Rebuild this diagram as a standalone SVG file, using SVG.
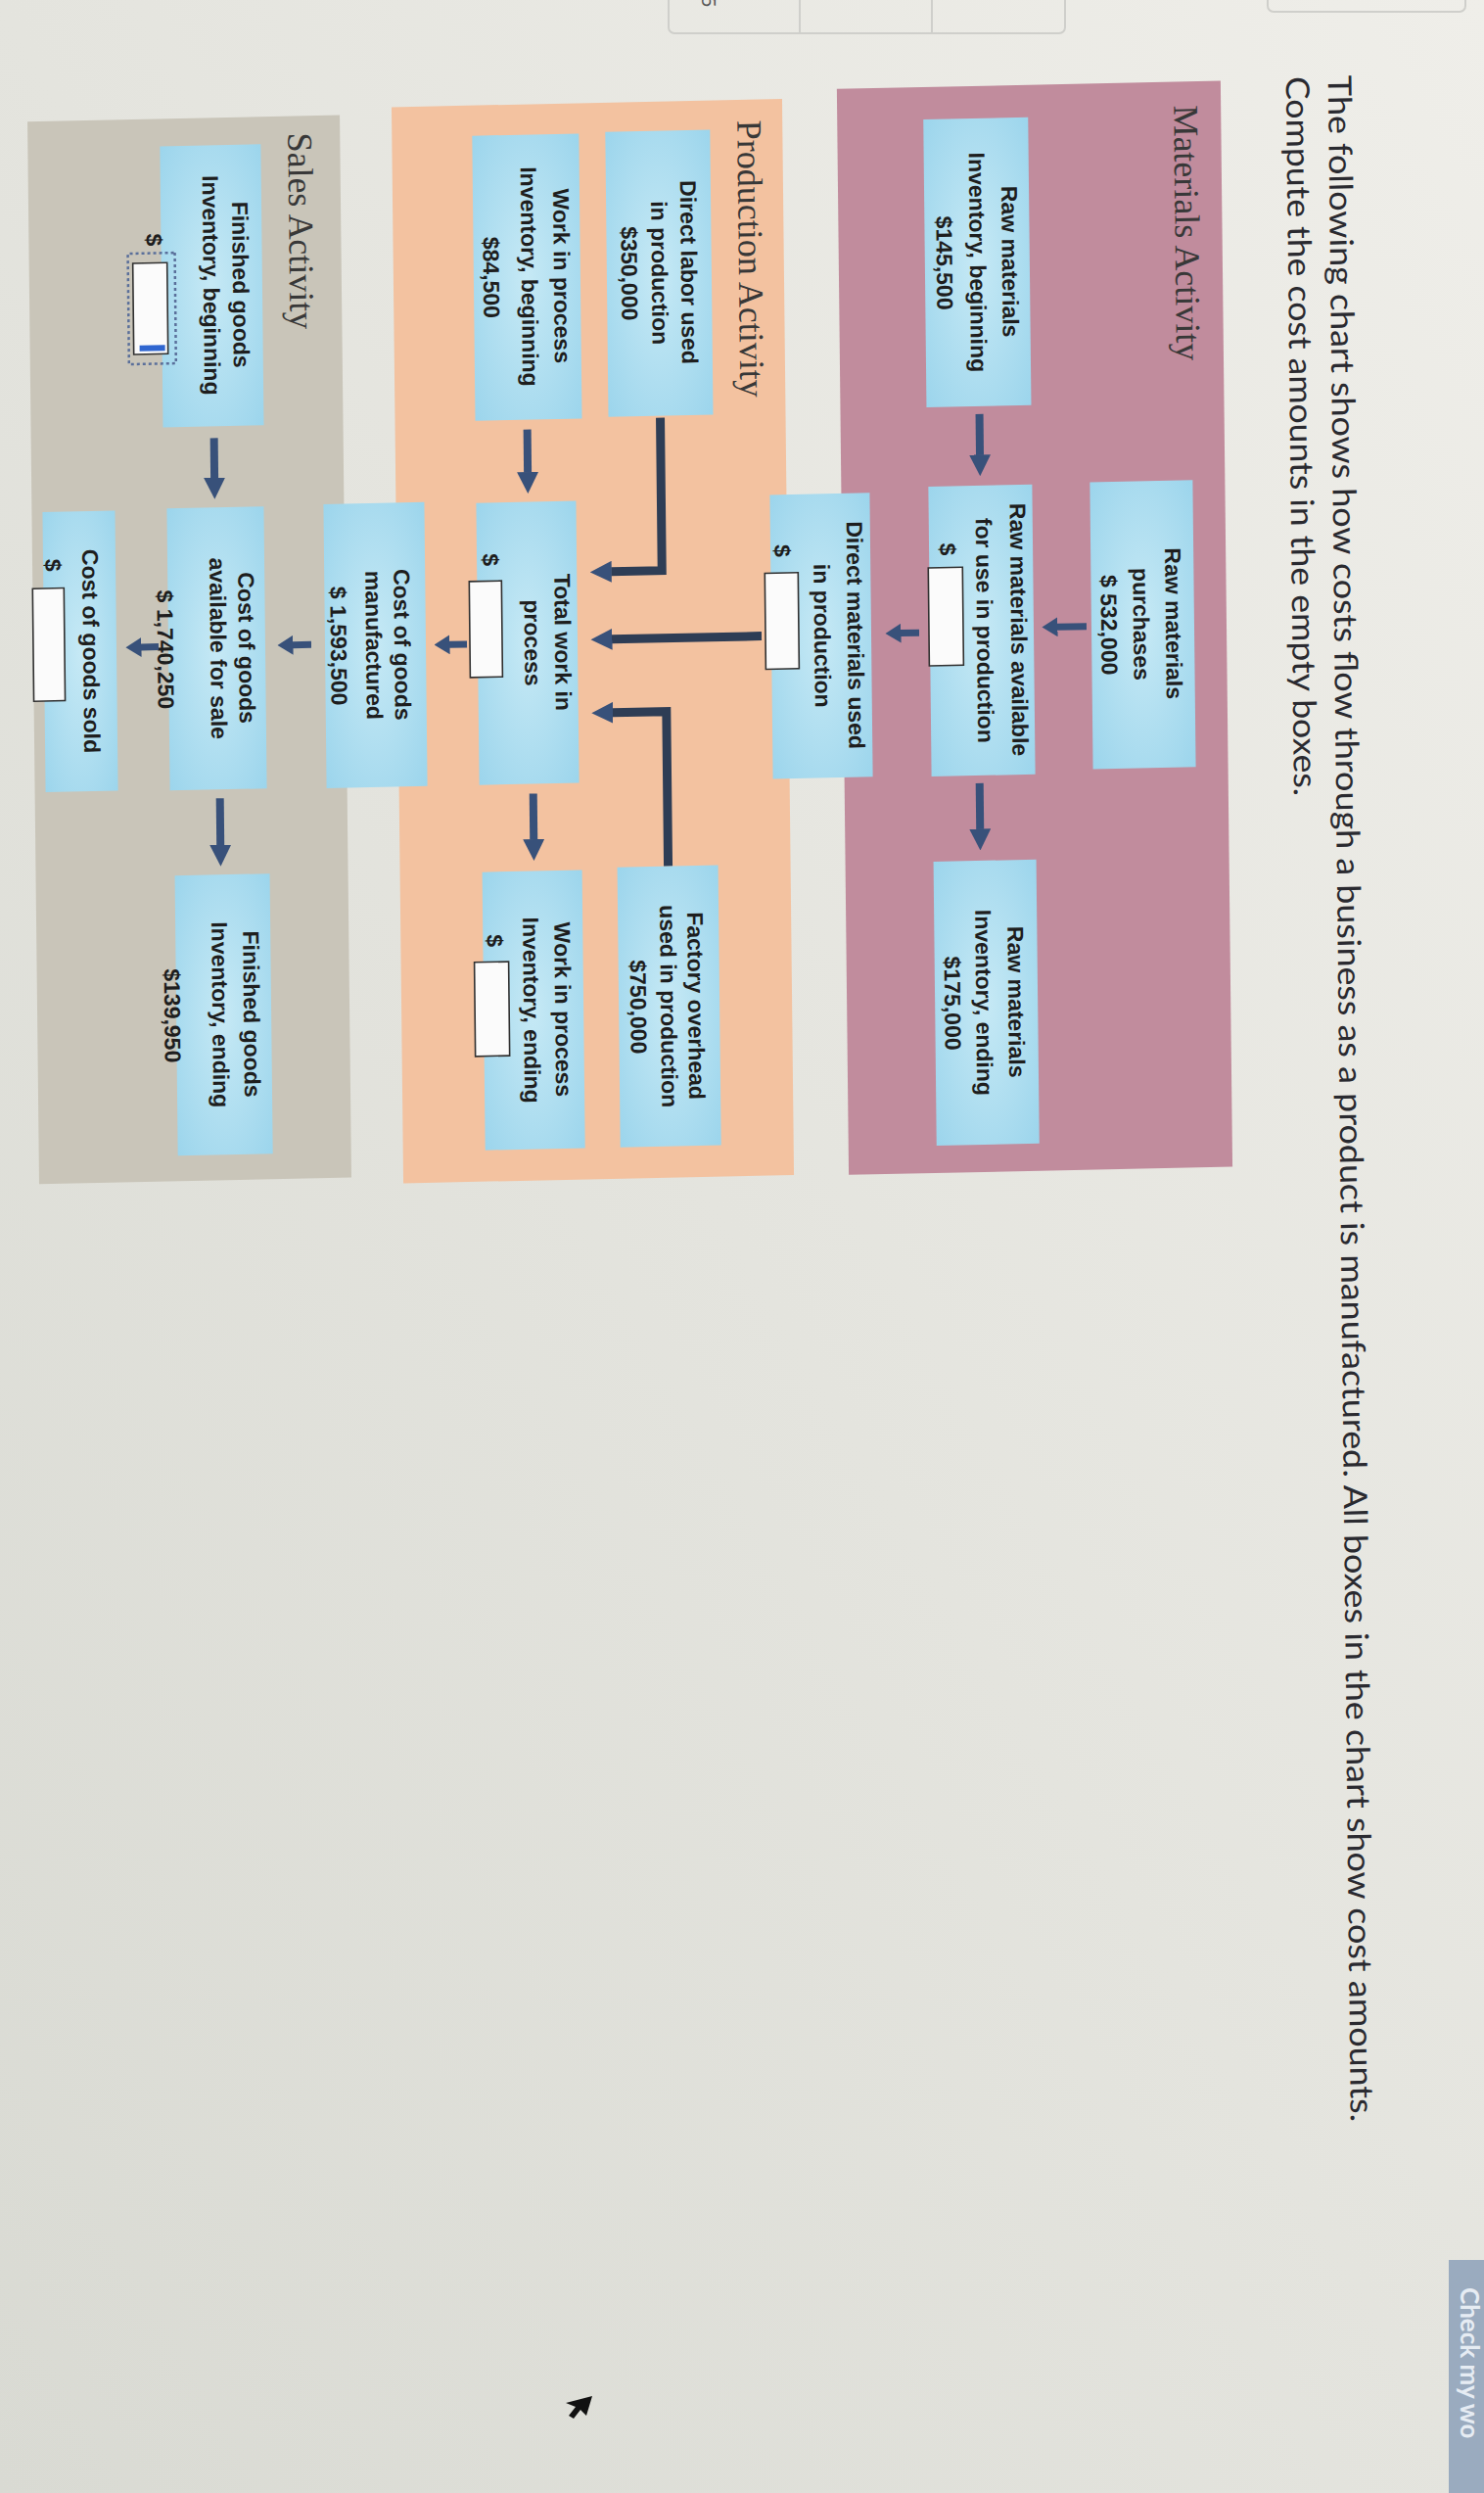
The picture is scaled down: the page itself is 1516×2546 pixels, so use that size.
<svg xmlns="http://www.w3.org/2000/svg" width="1516" height="2546" viewBox="0 0 1516 2546">
<defs>
<linearGradient id="bg" x1="1" y1="0" x2="0" y2="1">
<stop offset="0" stop-color="#efeee9"/><stop offset="1" stop-color="#d9dad3"/>
</linearGradient>
<radialGradient id="boxg" cx="0.5" cy="0.5" r="0.7">
<stop offset="0" stop-color="#c6e9f5"/><stop offset="1" stop-color="#9cd5ec"/>
</radialGradient>
<marker id="ah" viewBox="0 -11 22 22" markerWidth="22" markerHeight="22" refX="0.5" refY="0" orient="auto" markerUnits="userSpaceOnUse"><path d="M0,-11 L22,0 L0,11 Z" fill="#38517a"/></marker>
<marker id="as" viewBox="0 -10 16 20" markerWidth="16" markerHeight="20" refX="0.5" refY="0" orient="auto" markerUnits="userSpaceOnUse"><path d="M0,-10 L16,0 L0,10 Z" fill="#38517a"/></marker>
<style>
.box{fill:url(#boxg)}
.t{font-family:"Liberation Sans",Arial,sans-serif;font-weight:bold;font-size:23px;fill:#1e1e1e;text-anchor:middle}
.d{font-family:"Liberation Sans",Arial,sans-serif;font-weight:bold;font-size:23px;fill:#1e1e1e}
.lbl{font-family:"Liberation Serif","Times New Roman",serif;font-size:36px;fill:#383838}
.title{font-family:Lato,"Open Sans",sans-serif;font-size:33px;fill:#2a2a30}
.inp{fill:#fbfbfb;stroke:#303030;stroke-width:1.6}
.arr{fill:none;stroke:#38517a;stroke-width:8}
.arrs{fill:none;stroke:#38517a;stroke-width:7}
.brk{fill:none;stroke:#2e3d55;stroke-width:9}
</style>
</defs>
<rect x="0" y="0" width="1516" height="2546" fill="url(#bg)"/>
<g id="page-ui" fill="none" stroke="#cfcfcb" stroke-width="2">
<rect x="683" y="-12" width="405" height="46" rx="6"/>
<line x1="817" y1="-2" x2="817" y2="34"/>
<line x1="952" y1="-2" x2="952" y2="34"/>
<rect x="1295" y="-12" width="202" height="24" rx="6"/>
</g>
<text transform="translate(717,-4) rotate(90)" font-family="Lato,sans-serif" font-size="20" fill="#555">5</text>
<g id="check-button">
<rect x="1480" y="2308" width="40" height="245" fill="#9aabbf"/>
<text transform="translate(1492,2336) rotate(90)" font-family="Lato,sans-serif" font-weight="bold" font-size="26" fill="#e6ecf3">Check my wo</text>
</g>
<path id="cursor" d="M605,2447 L578,2454 L588,2458 L581,2467 L586,2470 L593,2461 L599,2467 Z" fill="#111"/>
<g transform="matrix(0.011 1 -1 0.021 1508.85 -15.9)">
<g id="title">
<text class="title" x="90" y="153" textLength="2090" lengthAdjust="spacingAndGlyphs">The following chart shows how costs flow through a business as a product is manufactured. All boxes in the chart show cost amounts.</text>
<text class="title" x="90" y="196" textLength="735" lengthAdjust="spacingAndGlyphs">Compute the cost amounts in the empty boxes.</text>
</g>
<g id="panel-materials"><rect x="93" y="263" width="1109" height="392" fill="#c18c9d"/><text class="lbl" x="117" y="311">Materials Activity</text></g>
<g id="panel-production"><rect x="102" y="711" width="1099" height="399" fill="#f3c2a0"/><text class="lbl" x="123" y="757">Production Activity</text></g>
<g id="panel-sales"><rect x="109" y="1163" width="1085" height="319" fill="#c9c5b9"/><text class="lbl" x="126" y="1216">Sales Activity</text></g>
<g id="connectors">
<path class="arr" d="M428,513 H470" marker-end="url(#ah)"/>
<path class="arrs" d="M647,406 V436" marker-end="url(#as)"/>
<path class="arr" d="M805,517 H852" marker-end="url(#ah)"/>
<path class="arrs" d="M650,577 V596" marker-end="url(#as)"/>
<path class="brk" d="M425,839 H581 V891" marker-end="url(#ah)"/>
<path class="brk" d="M650,738 V891" marker-end="url(#ah)"/>
<path class="brk" d="M883,836 H725 V891" marker-end="url(#ah)"/>
<path class="arr" d="M434,975 H478" marker-end="url(#ah)"/>
<path class="arr" d="M806,973 H853" marker-end="url(#ah)"/>
<path class="arrs" d="M652,1039 V1057" marker-end="url(#as)"/>
<path class="arr" d="M436,1295 H477" marker-end="url(#ah)"/>
<path class="arrs" d="M649,1198 V1217" marker-end="url(#as)"/>
<path class="arr" d="M804,1293 H852" marker-end="url(#ah)"/>
</g>
<g id="n-rm-beg"><rect class="box" x="126" y="460" width="294" height="107"/>
<text class="t" x="273" y="488">Raw materials</text><text class="t" x="273" y="521">Inventory, beginning</text><text class="t" x="273" y="555">$145,500</text></g>
<g id="n-rm-pur"><rect class="box" x="500" y="296" width="293" height="105"/>
<text class="t" x="646" y="325">Raw materials</text><text class="t" x="646" y="358">purchases</text><text class="t" x="646" y="391">$ 532,000</text></g>
<g id="n-rm-avail"><rect class="box" x="501" y="460" width="296" height="106"/>
<text class="t" x="649" y="483">Raw materials available</text><text class="t" x="649" y="518">for use in production</text>
<text class="d" x="559" y="555">$</text><rect class="inp" x="584" y="532" width="100" height="35"/></g>
<g id="n-rm-end"><rect class="box" x="884" y="460" width="290" height="105"/>
<text class="t" x="1029" y="490">Raw materials</text><text class="t" x="1029" y="523">Inventory, ending</text><text class="t" x="1029" y="555">$175,000</text></g>
<g id="n-dm"><rect class="box" x="506" y="626" width="290" height="102"/>
<text class="t" x="651" y="650">Direct materials used</text><text class="t" x="651" y="684">in production</text>
<text class="d" x="557" y="724">$</text><rect class="inp" x="586" y="700" width="98" height="34"/></g>
<g id="n-dl"><rect class="box" x="132" y="785" width="291" height="107"/>
<text class="t" x="277" y="816">Direct labor used</text><text class="t" x="277" y="846">in production</text><text class="t" x="277" y="877">$350,000</text></g>
<g id="n-wipb"><rect class="box" x="133" y="919" width="291" height="109"/>
<text class="t" x="278" y="946">Work in process</text><text class="t" x="278" y="979">Inventory, beginning</text><text class="t" x="278" y="1018">$84,500</text></g>
<g id="n-twip"><rect class="box" x="508" y="926" width="288" height="102"/>
<text class="t" x="652" y="949">Total work in</text><text class="t" x="652" y="980">process</text>
<text class="d" x="560" y="1022">$</text><rect class="inp" x="588" y="1003" width="98" height="33"/></g>
<g id="n-foh"><rect class="box" x="883" y="785" width="286" height="103"/>
<text class="t" x="1026" y="817">Factory overhead</text><text class="t" x="1026" y="845">used in production</text><text class="t" x="1026" y="876">$750,000</text></g>
<g id="n-wipe"><rect class="box" x="885" y="924" width="284" height="102"/>
<text class="t" x="1027" y="953">Work in process</text><text class="t" x="1027" y="985">Inventory, ending</text>
<text class="d" x="949" y="1022">$</text><rect class="inp" x="977" y="1000" width="96" height="35"/></g>
<g id="n-cogm"><rect class="box" x="506" y="1081" width="290" height="103"/>
<text class="t" x="651" y="1113">Cost of goods</text><text class="t" x="651" y="1142">manufactured</text><text class="t" x="651" y="1178">$ 1,593,500</text></g>
<g id="n-fgb"><rect class="box" x="137" y="1244" width="287" height="103"/>
<text class="t" x="280" y="1274">Finished goods</text><text class="t" x="280" y="1304">Inventory, beginning</text>
<text class="d" x="226" y="1362">$</text>
<rect x="246" y="1333" width="113" height="48" fill="none" stroke="#5a6f9a" stroke-width="2.5" stroke-dasharray="3 3"/>
<rect class="inp" x="256" y="1341" width="93" height="35"/>
<rect x="340" y="1344" width="6" height="26" fill="#2f66d0"/></g>
<g id="n-cogas"><rect class="box" x="507" y="1245" width="288" height="99"/>
<text class="t" x="651" y="1272">Cost of goods</text><text class="t" x="651" y="1301">available for sale</text><text class="t" x="651" y="1355">$ 1,740,250</text></g>
<g id="n-fge"><rect class="box" x="882" y="1243" width="286" height="97"/>
<text class="t" x="1025" y="1271">Finished goods</text><text class="t" x="1025" y="1303">Inventory, ending</text><text class="t" x="1025" y="1352">$139,950</text></g>
<g id="n-cogs"><rect class="box" x="508" y="1397" width="286" height="74"/>
<text class="t" x="651" y="1431">Cost of goods sold</text>
<text class="d" x="556" y="1469">$</text><rect class="inp" x="586" y="1450" width="115" height="32"/></g>
<g id="connectors-top">
<path class="arrs" d="M648,1354 V1372" marker-end="url(#as)"/>
</g>
</g>
</svg>
